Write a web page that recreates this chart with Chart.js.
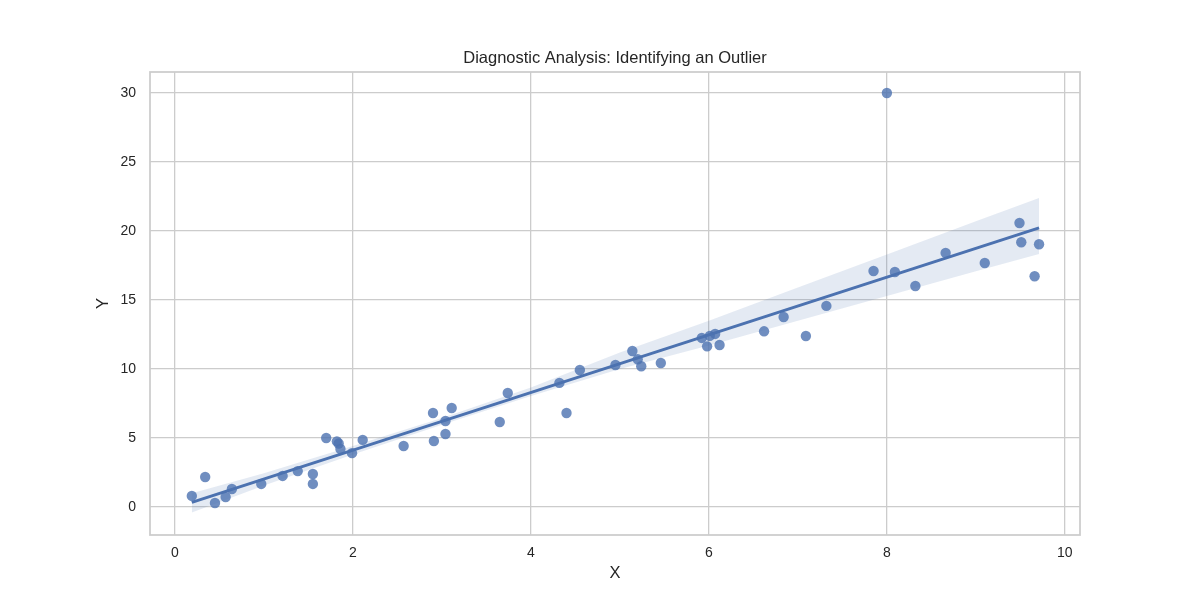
<!DOCTYPE html>
<html lang="en">
<head>
    <meta charset="UTF-8">
    <title>Diagnostic Analysis: Identifying an Outlier</title>
    <script src="https://cdn.jsdelivr.net/npm/chart.js"></script>
    <style>
        body { margin: 0; background: #fff; }
        #wrap { width: 1200px; height: 600px; }
    </style>
</head>
<body>
    <div id="wrap"><canvas id="myChart" width="1200" height="600"></canvas></div>

    <script>
        const xVals = [0.19, 0.34, 0.45, 0.57, 0.64, 0.97, 1.21, 1.38, 1.55, 1.55,
                       1.70, 1.82, 1.84, 1.86, 1.99, 2.11, 2.57, 2.90, 2.91, 3.04,
                       3.04, 3.11, 3.65, 3.74, 4.32, 4.40, 4.55, 4.95, 5.14, 5.20,
                       5.24, 5.46, 5.92, 6.01, 6.07, 5.98, 6.12, 6.62, 6.84, 7.09,
                       7.32, 7.85, 8.09, 8.32, 8.66, 9.10, 9.49, 9.51, 9.66, 9.71, 8.00];
        const yVals = [0.80, 2.17, 0.29, 0.72, 1.30, 1.67, 2.25, 2.60, 2.39, 1.67,
                       5.00, 4.75, 4.60, 4.20, 3.90, 4.86, 4.42, 6.81, 4.78, 6.23,
                       5.29, 7.17, 6.16, 8.26, 8.99, 6.81, 9.93, 10.29, 11.30, 10.70,
                       10.20, 10.43, 12.25, 12.40, 12.54, 11.64, 11.74, 12.73, 13.77, 12.39,
                       14.57, 17.10, 17.03, 16.01, 18.41, 17.68, 20.58, 19.18, 16.72, 19.04, 30.00];

        // regression line ends
        const fitX = [0.19, 9.71];
        const fitY = [0.33, 20.22];

        // confidence band
        const bandX    = [0.19, 1, 2, 3, 4, 5, 6, 7, 8, 9, 9.71];
        const bandLow  = [-0.40, 1.55, 3.80, 5.95, 8.05, 10.0, 11.71, 13.5, 15.29, 17.08, 18.33];
        const bandHigh = [1.00, 2.45, 4.42, 6.45, 8.65, 11.2, 13.5, 15.9, 18.3, 20.7, 22.39];

        const xTicks = [0, 2, 4, 6, 8, 10];
        const yTicks = [0, 5, 10, 15, 20, 25, 30];

        const chartTitle = 'Diagnostic Analysis: Identifying an Outlier';
        const blue = '#4C72B0';
        const fontFamily = 'Arial, "Liberation Sans", sans-serif';
        const pts = (xs, ys) => xs.map((x, i) => ({ x: x, y: ys[i] }));

        // frame round the plot area + title centred over it
        const frame = {
            id: 'frame',
            afterDatasetsDraw(chart) {
                const a = chart.chartArea, ctx = chart.ctx;
                ctx.save();
                ctx.strokeStyle = '#cccccc';
                ctx.lineWidth = 1.75;
                ctx.strokeRect(a.left, a.top, a.right - a.left, a.bottom - a.top);
                ctx.fillStyle = '#262626';
                ctx.font = '16.5px ' + fontFamily;
                ctx.textAlign = 'center';
                ctx.textBaseline = 'middle';
                ctx.fillText(chartTitle, (a.left + a.right) / 2, 58);
                ctx.restore();
            }
        };

        new Chart(document.getElementById('myChart'), {
            type: 'scatter',
            data: {
                datasets: [{
                    data: pts(fitX, fitY),
                    showLine: true,
                    borderColor: blue,
                    borderWidth: 3,
                    pointRadius: 0,
                    order: 0
                }, {
                    data: pts(bandX, bandLow),
                    showLine: true,
                    borderWidth: 0,
                    borderColor: 'rgba(0,0,0,0)',
                    pointRadius: 0,
                    order: 1
                }, {
                    data: pts(bandX, bandHigh),
                    showLine: true,
                    borderWidth: 0,
                    borderColor: 'rgba(0,0,0,0)',
                    backgroundColor: 'rgba(76,114,176,0.15)',
                    fill: 1,
                    pointRadius: 0,
                    order: 1
                }, {
                    data: pts(xVals, yVals),
                    backgroundColor: 'rgba(76,114,176,0.8)',
                    borderWidth: 0,
                    pointRadius: 5.2,
                    order: 2
                }]
            },
            options: {
                responsive: false,
                animation: false,
                layout: { padding: { left: 0, right: 120, top: 72, bottom: 0 } },
                plugins: {
                    legend: { display: false },
                    tooltip: { enabled: false },
                    title: { display: false }
                },
                scales: {
                    x: {
                        type: 'linear',
                        min: -0.28,
                        max: 10.17,
                        afterBuildTicks: s => { s.ticks = xTicks.map(v => ({ value: v })); },
                        afterFit: s => { s.height = 65; },
                        grid: { color: '#cccccc', lineWidth: 1.3, drawTicks: false },
                        border: { display: false },
                        ticks: { color: '#262626', padding: 10, font: { family: fontFamily, size: 14 } },
                        title: { display: true, text: 'X', color: '#262626',
                                 font: { family: fontFamily, size: 16.5 }, padding: { top: 0, bottom: 17 } }
                    },
                    y: {
                        type: 'linear',
                        min: -2.03,
                        max: 31.52,
                        afterBuildTicks: s => { s.ticks = yTicks.map(v => ({ value: v })); },
                        afterFit: s => { s.width = 150; },
                        grid: { color: '#cccccc', lineWidth: 1.3, drawTicks: false },
                        border: { display: false },
                        ticks: { color: '#262626', padding: 14, font: { family: fontFamily, size: 14 } },
                        title: { display: true, text: 'Y', color: '#262626',
                                 font: { family: fontFamily, size: 16.5 }, padding: { top: 94, bottom: 0 } }
                    }
                }
            },
            plugins: [frame]
        });
    </script>
</body>
</html>
